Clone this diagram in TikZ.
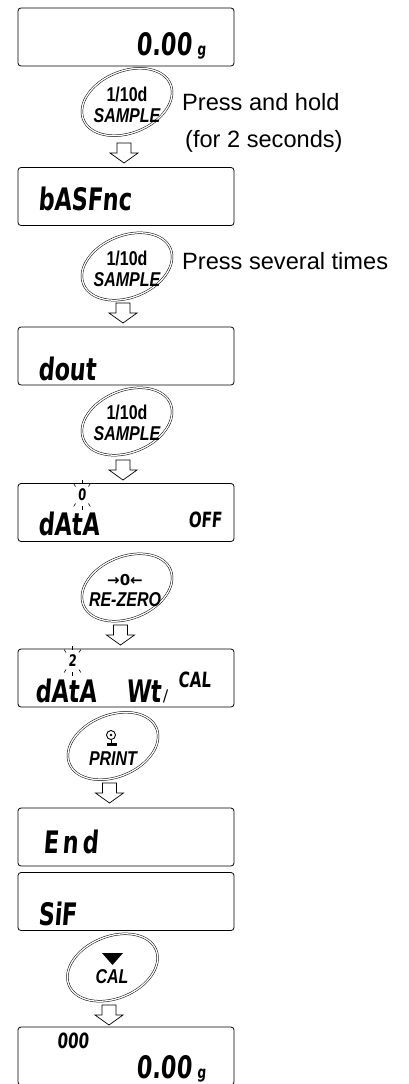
\documentclass[tikz,border=0pt]{standalone}
\usepackage{fontspec}
\setmainfont{Liberation Sans}
\newfontfamily\keyfont[FakeStretch=0.8]{Liberation Sans}
\newfontfamily\lcdfont[FakeStretch=0.72,FakeSlant=0.08]{DejaVu Sans}
\newfontfamily\symfont{DejaVu Sans}
\usetikzlibrary{positioning, calc}
\tikzset{
    lcd/.style={rectangle, rounded corners=3pt, draw=black, line width=0.8pt, minimum width=216pt, minimum height=58pt, inner sep=0pt},
    lcdtxt/.style={inner sep=0pt, font=\lcdfont\bfseries\fontsize{31}{31}\selectfont},
    lcdsmall/.style={inner sep=0pt, font=\lcdfont\bfseries\fontsize{21}{21}\selectfont},
    lcdtiny/.style={inner sep=0pt, font=\lcdfont\bfseries\fontsize{16}{16}\selectfont},
    keylbl/.style={inner sep=0pt, align=center, font=\keyfont\bfseries\fontsize{20}{21}\selectfont},
    keyring/.style={draw=black, line width=0.5pt, double=white, double distance=1.3pt},
    hollow/.style={draw=black, line width=0.7pt, fill=white, line join=miter},
    note/.style={anchor=base west, inner sep=0pt, font=\fontsize{23.6}{26}\selectfont},
    blink/.style={line width=0.6pt},
}
\begin{document}
\begin{tikzpicture}[x=1pt, y=-1pt]
    \useasboundingbox (0,0) rectangle (409,1084);
    \clip (0,0) rectangle (409,1084);

    \foreach \n/\y in {1/37, 2/196.5, 3/356, 4/512.5, 5/678, 6/837, 7/901.5, 8/1056}
        \node[lcd] (d\n) at (126,\y) {};

    \node[lcdtxt, anchor=base east] (t1) at (206,55) {0.00\,{\fontsize{17}{17}\selectfont g}};
    \node[lcdtxt, anchor=base west] (t2) at (38,210) {bASFnc};
    \node[lcdtxt, anchor=base west] (t3) at (38,380) {dout};
    \node[lcdtxt, anchor=base west] (t4) at (38,535) {dAtA};
    \node[lcdsmall, anchor=base east] (t4off) at (222,527) {OFF};
    \node[lcdtiny] (t4dig) at (82,495) {0};
    \node[lcdtxt, anchor=base west] (t5) at (35,702) {dAtA};
    \node[lcdtxt, anchor=base west] (t5wt) at (126,702) {Wt};
    \node[lcdtiny, anchor=base west] (t5sl) at (163,701) {/};
    \node[lcdsmall, anchor=base west] (t5cal) at (178,687) {CAL};
    \node[lcdtiny] (t5dig) at (72.5,661) {2};
    \node[lcdtxt, anchor=base west] (t6) at (43,853) {E\hspace{4pt}n\hspace{4pt}d};
    \node[lcdtxt, anchor=base west] (t7) at (38,925) {SiF};
    \node[lcdsmall, anchor=base west] (t8cnt) at (57,1048) {000};
    \node[lcdtxt, anchor=base east] (t8) at (206,1078) {0.00\,{\fontsize{17}{17}\selectfont g}};

    \foreach \cx/\cy in {82/495, 72.5/661}
        \foreach \a in {50,90,130,230,270,310}
            \draw[blink, shift={(\cx,\cy)}] (\a:10 and 11) -- (\a:13 and 15);

    \foreach \kx/\ky in {127/102, 127/266.5, 127/421.5, 127/587.5, 113/746, 112.5/967.5}
        \draw[keyring, rotate around={22:(\kx,\ky)}] (\kx,\ky) ellipse (47 and 31);

    \node[keylbl] (k1) at (127,105) {1/10d\\\itshape SAMPLE};
    \node[keylbl] (k2) at (127,269) {1/10d\\\itshape SAMPLE};
    \node[keylbl] (k3) at (127,423) {1/10d\\\itshape SAMPLE};
    \node[keylbl] (k4) at (125,591) {{\symfont\fontsize{15}{15}\selectfont →0←}\\\itshape RE-ZERO};
    \node[keylbl] (k5) at (113,759) {\itshape PRINT};
    \node[keylbl] (k6) at (112,977) {\itshape CAL};

    \draw[line width=0.9pt] (111,735) circle (4.5);
    \fill (111,735) circle (1.4);
    \draw[line width=0.9pt] (111,739.5) -- (111,743);
    \fill (106.5,743) rectangle (116.5,745.5);
    \fill (102,953) -- (123,953) -- (112.5,965) -- cycle;

    \foreach \ax/\ay in {124/143, 123/303, 123/460, 120.5/625, 109.5/783, 109/1005}
        \draw[hollow] (\ax-7,\ay) -- ++(14,0) -- ++(0,10) -- ++(7,0) -- ++(-14,10) -- ++(-14,-10) -- ++(7,0) -- cycle;

    \node[note] (n1) at (182,110) {Press and hold};
    \node[note] (n2) at (185,147) {(for 2 seconds)};
    \node[note] (n3) at (182,269) {Press several times};
\end{tikzpicture}
\end{document}
